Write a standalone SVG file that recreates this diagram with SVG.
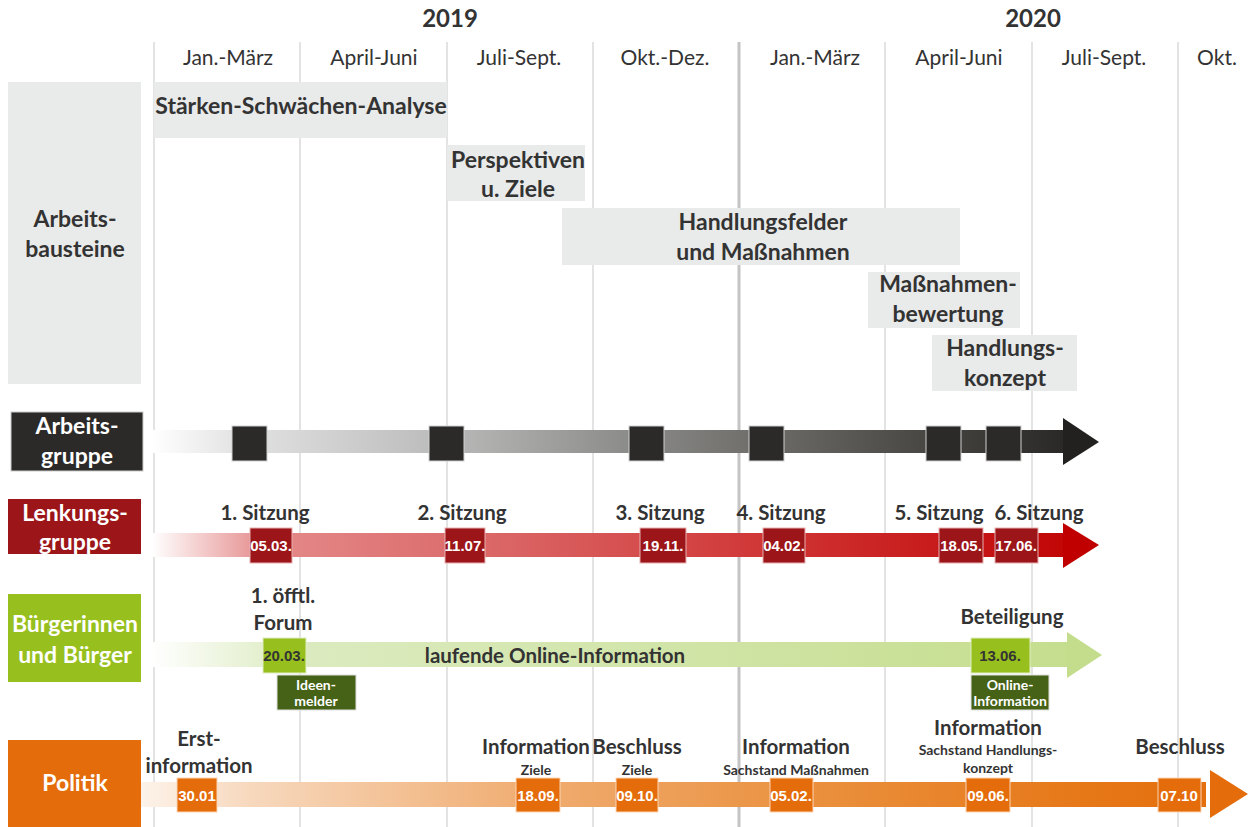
<svg xmlns="http://www.w3.org/2000/svg" width="1248" height="827" viewBox="0 0 1248 827">
<style>
text{font-family:Lato,"Open Sans","Liberation Sans",sans-serif;fill:#333;text-anchor:middle}
.yr{font-size:24px;font-weight:700}
.col{font-size:21px}
.box{fill:#e9eaea}
.bt{font-size:23px;font-weight:700}
.lbl{font-size:23px;font-weight:700;fill:#fff}
.ev{font-size:20.5px;font-weight:700}
.sm{font-size:14px;font-weight:700}
.date{font-family:"Liberation Sans",Arial,sans-serif;font-size:15px;font-weight:700;fill:#fff}
.grid{stroke:#dadada;stroke-width:1.5}
.sq{fill:#2b2a29;stroke:#d0d0d0;stroke-width:1}
.rd{fill:#9b1519;stroke:#e8b0b0;stroke-width:1}
.gd{fill:#97bf1e;stroke:#e0eec0;stroke-width:1}
.dg{fill:#466217;stroke:#e0e0e0;stroke-width:1}
.od{fill:#e46c0a;stroke:#fbd5b5;stroke-width:1}
.wt{font-size:14px;font-weight:700;fill:#fff}
</style>
<defs>
<linearGradient id="gGray" gradientUnits="userSpaceOnUse" x1="152" y1="0" x2="1100" y2="0">
<stop offset="0" stop-color="#ffffff"/>
<stop offset="0.09" stop-color="#e3e3e3"/>
<stop offset="0.3" stop-color="#bcbcbc"/>
<stop offset="0.5" stop-color="#8c8c8a"/>
<stop offset="0.65" stop-color="#6c6b68"/>
<stop offset="0.82" stop-color="#484642"/>
<stop offset="1" stop-color="#222120"/>
</linearGradient>
<linearGradient id="gRed" gradientUnits="userSpaceOnUse" x1="152" y1="0" x2="1100" y2="0">
<stop offset="0" stop-color="#ffffff"/>
<stop offset="0.12" stop-color="#e58a8a"/>
<stop offset="0.3" stop-color="#dd7070"/>
<stop offset="0.5" stop-color="#d65050"/>
<stop offset="0.65" stop-color="#d03535"/>
<stop offset="0.82" stop-color="#c81c1c"/>
<stop offset="1" stop-color="#c00000"/>
</linearGradient>
<linearGradient id="gGreen" gradientUnits="userSpaceOnUse" x1="152" y1="0" x2="1100" y2="0">
<stop offset="0" stop-color="#ffffff"/>
<stop offset="0.15" stop-color="#dcebc0"/>
<stop offset="1" stop-color="#c4dd8c"/>
</linearGradient>
<linearGradient id="gOrange" gradientUnits="userSpaceOnUse" x1="140" y1="0" x2="1248" y2="0">
<stop offset="0" stop-color="#fdf3ea"/>
<stop offset="0.1" stop-color="#f7d8bd"/>
<stop offset="0.35" stop-color="#f0ad72"/>
<stop offset="0.6" stop-color="#ea913f"/>
<stop offset="0.85" stop-color="#e67818"/>
<stop offset="1" stop-color="#e46c0a"/>
</linearGradient>
</defs>
<rect width="1248" height="827" fill="#fff"/>

<g id="grid">
<line class="grid" x1="154" y1="42" x2="154" y2="827"/>
<line class="grid" x1="300" y1="42" x2="300" y2="827"/>
<line class="grid" x1="447" y1="42" x2="447" y2="827"/>
<line class="grid" x1="593" y1="42" x2="593" y2="827"/>
<line x1="739" y1="42" x2="739" y2="827" stroke="#c4c4c4" stroke-width="3"/>
<line class="grid" x1="885" y1="42" x2="885" y2="827"/>
<line class="grid" x1="1032" y1="42" x2="1032" y2="827"/>
<line class="grid" x1="1178" y1="42" x2="1178" y2="827"/>
</g>

<g id="header">
<text class="yr" x="450" y="27">2019</text>
<text class="yr" x="1033" y="27">2020</text>
<text class="col" x="228" y="65">Jan.-März</text>
<text class="col" x="374" y="65">April-Juni</text>
<text class="col" x="519" y="65">Juli-Sept.</text>
<text class="col" x="665" y="65">Okt.-Dez.</text>
<text class="col" x="815" y="65">Jan.-März</text>
<text class="col" x="959" y="65">April-Juni</text>
<text class="col" x="1104" y="65">Juli-Sept.</text>
<text class="col" x="1217" y="65">Okt.</text>
</g>

<g id="label-arbeitsbausteine">
<rect class="box" x="8" y="82" width="133" height="302"/>
<text class="bt" x="75" y="227">Arbeits-</text>
<text class="bt" x="75" y="257">bausteine</text>
</g>
<g id="ab-staerken">
<rect class="box" x="154" y="82" width="293" height="56"/>
<text class="bt" x="301" y="114">Stärken-Schwächen-Analyse</text>
</g>
<g id="ab-perspektiven">
<rect class="box" x="447" y="145" width="138" height="56"/>
<text class="bt" x="518" y="168">Perspektiven</text>
<text class="bt" x="518" y="197">u. Ziele</text>
</g>
<g id="ab-handlungsfelder">
<rect class="box" x="562" y="208" width="398" height="57"/>
<text class="bt" x="763" y="230">Handlungsfelder</text>
<text class="bt" x="763" y="260">und Maßnahmen</text>
</g>
<g id="ab-bewertung">
<rect class="box" x="868" y="272" width="152" height="56"/>
<text class="bt" x="948" y="292">Maßnahmen-</text>
<text class="bt" x="948" y="322">bewertung</text>
</g>
<g id="ab-konzept">
<rect class="box" x="932" y="335" width="145" height="56"/>
<text class="bt" x="1005" y="356">Handlungs-</text>
<text class="bt" x="1005" y="386">konzept</text>
</g>

<g id="timeline-arrows">
<rect x="152" y="430" width="912" height="23" fill="url(#gGray)"/>
<polygon points="1063,418 1099,442 1063,465" fill="#222120"/>
<rect x="152" y="533" width="912" height="24" fill="url(#gRed)"/>
<polygon points="1063,523 1099,545 1063,568" fill="#c00000"/>
<rect x="152" y="642" width="916" height="25" fill="url(#gGreen)"/>
<polygon points="1067,632 1102,655 1067,678" fill="#c4dd8c"/>
<rect x="140" y="782" width="1066" height="25" fill="url(#gOrange)"/>
<polygon points="1210,770 1248,794 1210,818" fill="#e46c0a"/>
</g>

<g id="label-arbeitsgruppe">
<rect x="11" y="412" width="132" height="59" fill="#2b2a29" stroke="#ccc" stroke-width="1"/>
<text class="lbl" x="77" y="434">Arbeits-</text>
<text class="lbl" x="77" y="464">gruppe</text>
</g>
<g id="ag-milestones">
<rect class="sq" x="232" y="426" width="35" height="35"/>
<rect class="sq" x="429" y="426" width="35" height="35"/>
<rect class="sq" x="629" y="426" width="35" height="35"/>
<rect class="sq" x="749" y="426" width="35" height="35"/>
<rect class="sq" x="926" y="426" width="35" height="35"/>
<rect class="sq" x="986" y="426" width="35" height="35"/>
</g>

<g id="label-lenkungsgruppe">
<rect x="8" y="499" width="133" height="55" fill="#9b1519"/>
<text class="lbl" x="75" y="521">Lenkungs-</text>
<text class="lbl" x="75" y="550">gruppe</text>
</g>
<g id="lg-sitzungen">
<text class="ev" x="265" y="520">1. Sitzung</text>
<text class="ev" x="462" y="520">2. Sitzung</text>
<text class="ev" x="660" y="520">3. Sitzung</text>
<text class="ev" x="781" y="520">4. Sitzung</text>
<text class="ev" x="939" y="520">5. Sitzung</text>
<text class="ev" x="1039" y="520">6. Sitzung</text>
<rect class="rd" x="250" y="528" width="42" height="35"/><text class="date" x="271" y="551">05.03.</text>
<rect class="rd" x="445" y="528" width="40" height="35"/><text class="date" x="465" y="551">11.07.</text>
<rect class="rd" x="640" y="528" width="46" height="35"/><text class="date" x="663" y="551">19.11.</text>
<rect class="rd" x="763" y="528" width="42" height="35"/><text class="date" x="784" y="551">04.02.</text>
<rect class="rd" x="939" y="528" width="44" height="35"/><text class="date" x="961" y="551">18.05.</text>
<rect class="rd" x="995" y="528" width="43" height="35"/><text class="date" x="1016" y="551">17.06.</text>
</g>

<g id="label-buerger">
<rect x="8" y="594" width="133" height="88" fill="#97bf1e"/>
<text class="lbl" x="75" y="632">Bürgerinnen</text>
<text class="lbl" x="75" y="663">und Bürger</text>
</g>
<g id="bg-events">
<text class="ev" x="283" y="603">1. öfftl.</text>
<text class="ev" x="283" y="630">Forum</text>
<rect class="gd" x="263" y="638" width="43" height="35"/>
<text class="date" x="284" y="661" style="fill:#333">20.03.</text>
<rect class="dg" x="277" y="675" width="79" height="35"/>
<text class="wt" x="316" y="690">Ideen-</text>
<text class="wt" x="316" y="706">melder</text>
<text class="ev" x="555" y="663">laufende Online-Information</text>
<text class="ev" x="1012" y="624">Beteiligung</text>
<rect class="gd" x="971" y="638" width="59" height="35"/>
<text class="date" x="1000" y="661" style="fill:#333">13.06.</text>
<rect class="dg" x="971" y="675" width="78" height="35"/>
<text class="wt" x="1010" y="690">Online-</text>
<text class="wt" x="1010" y="706">Information</text>
</g>

<g id="label-politik">
<rect x="8" y="740" width="133" height="87" fill="#e46c0a"/>
<text class="lbl" x="75" y="791">Politik</text>
</g>
<g id="po-events">
<text class="ev" x="199" y="746">Erst-</text>
<text class="ev" x="199" y="773">information</text>
<rect class="od" x="177" y="778" width="40" height="34"/><text class="date" x="197" y="801">30.01</text>
<text class="ev" x="536" y="754">Information</text>
<text class="sm" x="536" y="775">Ziele</text>
<rect class="od" x="516" y="778" width="44" height="34"/><text class="date" x="538" y="801">18.09.</text>
<text class="ev" x="637" y="754">Beschluss</text>
<text class="sm" x="637" y="775">Ziele</text>
<rect class="od" x="616" y="778" width="42" height="34"/><text class="date" x="637" y="801">09.10.</text>
<text class="ev" x="796" y="754">Information</text>
<text class="sm" x="796" y="775">Sachstand Maßnahmen</text>
<rect class="od" x="770" y="778" width="43" height="34"/><text class="date" x="791" y="801">05.02.</text>
<text class="ev" x="988" y="735">Information</text>
<text class="sm" x="988" y="755">Sachstand Handlungs-</text>
<text class="sm" x="988" y="773">konzept</text>
<rect class="od" x="966" y="778" width="44" height="34"/><text class="date" x="988" y="801">09.06.</text>
<text class="ev" x="1180" y="754">Beschluss</text>
<rect class="od" x="1158" y="778" width="43" height="34"/><text class="date" x="1179" y="801">07.10</text>
</g>
</svg>
